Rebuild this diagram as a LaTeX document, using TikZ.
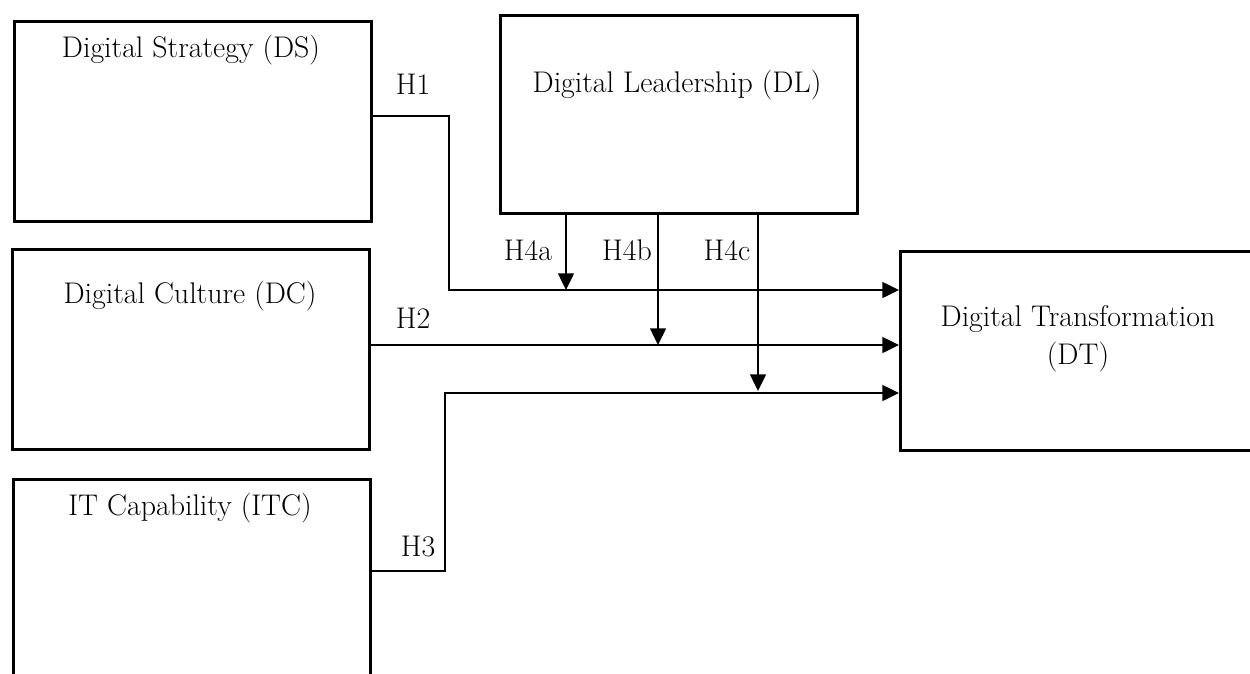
\documentclass[tikz,border=0pt]{standalone}
\usetikzlibrary{arrows.meta,positioning}
\begin{document}
\begin{tikzpicture}[x=0.02cm,y=-0.02cm,font=\fontsize{17}{21.5}\selectfont]
      \tikzset{
          construct/.style={draw,line width=1.6pt,minimum width=7.14cm,minimum height=4cm,anchor=north west,inner sep=0pt},
          hyp/.style={->,line width=1.2pt,>={Triangle[length=9.5pt,width=9pt]}},
      }
      \useasboundingbox (0,0) rectangle (1250,673);
      \clip (0,0) rectangle (1250,673);

      % constructs
      \node[construct]                         (ds)  at (13,20)  {};
      \node[construct,minimum height=3.96cm]   (dl)  at (499,14) {};
      \node[construct]                         (dc)  at (11,248) {};
      \node[construct,minimum height=4.4cm]    (itc) at (12,478) {};
      \node[construct,minimum width=7.18cm,minimum height=3.98cm] (dt) at (899,250) {};

      \node (dstext)  at (191,50)  {Digital Strategy (DS)};
      \node (dltext)  at (677,85)  {Digital Leadership (DL)};
      \node (dctext)  at (190,296) {Digital Culture (DC)};
      \node (itctext) at (190,508) {IT Capability (ITC)};
      \node[align=center] (dttext) at (1078,339) {Digital Transformation\\(DT)};

      % turning points
      \coordinate (h1turn) at (449,290);
      \coordinate (h3out)  at (368,571);
      \coordinate (h3turn) at (445,393);
      \coordinate (m4a)    at (566,290);
      \coordinate (m4b)    at (658,345);
      \coordinate (m4c)    at (758,391);

      \draw[hyp] ([yshift=0.1cm]ds.east) -| (h1turn) -- (dt.west |- h1turn);
      \draw[hyp] (dc.east |- m4b) -- (dt.west |- m4b);
      \draw[hyp] (itc.east |- h3out) -| (h3turn) -- (dt.west |- h3turn);

      \draw[hyp] (dl.south -| m4a) -- (m4a);
      \draw[hyp] (dl.south -| m4b) -- (m4b);
      \draw[hyp] (dl.south -| m4c) -- (m4c);

      % hypothesis labels
      \node (h1)  at (413,84)  {H1};
      \node (h2)  at (413,318) {H2};
      \node (h3)  at (418,547) {H3};
      \node (h4a) at (528,250) {H4a};
      \node (h4b) at (627,250) {H4b};
      \node (h4c) at (727,250) {H4c};
\end{tikzpicture}
\end{document}
